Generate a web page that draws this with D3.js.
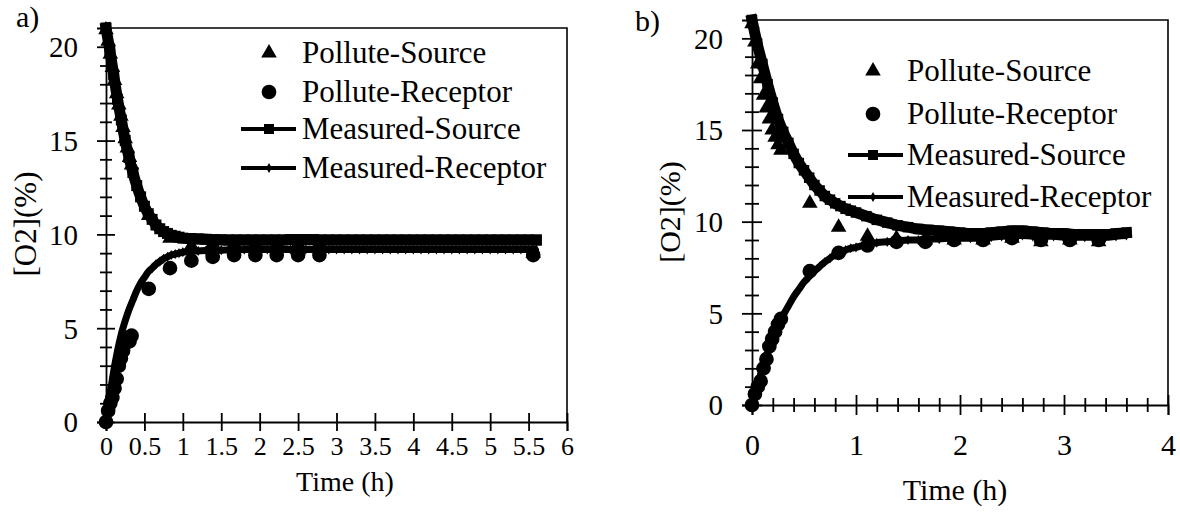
<!DOCTYPE html>
<html><head><meta charset="utf-8">
<script src="https://cdn.jsdelivr.net/npm/d3@7"></script>
<style>
html,body{margin:0;padding:0;background:#fff}
svg, svg text, svg g text { font-family: "Liberation Serif", Tinos, Times, serif !important; }
</style>
</head><body>
<svg id="c" width="1180" height="515" font-family="Liberation Serif"></svg>
<script>
const seriesNames = ["Pollute-Source", "Pollute-Receptor", "Measured-Source", "Measured-Receptor"];
const yTicks = [0, 5, 10, 15, 20];

// ---- panel a ----
const aPolluteTime = [0, 0.028, 0.056, 0.083, 0.111, 0.139, 0.167, 0.194, 0.222, 0.25, 0.278, 0.306, 0.333, 0.556, 0.833, 1.111, 1.389, 1.667, 1.944, 2.222, 2.5, 2.778, 5.56];
const aPolluteSource = [20.9, 20.3, 19.6, 18.9, 18.2, 17.5, 16.9, 16.3, 15.7, 15.1, 14.6, 14.1, 13.7, 11.0, 9.8, 9.4, 9.5, 9.5, 9.5, 9.5, 9.5, 9.5, 9.0];
const aPolluteReceptor = [0, 0.6, 1.0, 1.3, 1.8, 2.3, 3.0, 3.4, 3.8, 4.2, 4.5, 4.3, 4.6, 7.1, 8.2, 8.6, 8.8, 8.9, 8.9, 8.9, 8.9, 8.9, 8.9];
const aMeasuredTime = [0, 0.05, 0.1, 0.15, 0.2, 0.25, 0.3, 0.35, 0.4, 0.45, 0.5, 0.55, 0.6, 0.65, 0.7, 0.75, 0.8, 0.85, 0.9, 0.95,
  1.0, 1.1, 1.2, 1.3, 1.4, 1.5, 1.6, 1.7, 1.8, 1.9, 2.0, 2.1, 2.2, 2.3, 2.4, 2.5, 2.6, 2.7, 2.8, 2.9, 3.0, 3.1, 3.2, 3.3, 3.4, 3.5,
  3.6, 3.7, 3.8, 3.9, 4.0, 4.1, 4.2, 4.3, 4.4, 4.5, 4.6, 4.7, 4.8, 4.9, 5.0, 5.1, 5.2, 5.3, 5.4, 5.5, 5.6];
const aMeasuredSource = [21.0, 19.8, 18.5, 17.2, 16.1, 15.0, 14.1, 13.3, 12.6, 12.0, 11.5, 11.1, 10.8, 10.5, 10.3, 10.15, 10.05, 9.95, 9.9, 9.85,
  9.8, 9.78, 9.76, 9.74, 9.72, 9.71, 9.7, 9.7, 9.7, 9.7, 9.7, 9.7, 9.7, 9.7, 9.72, 9.72, 9.72, 9.72, 9.7, 9.7, 9.7, 9.7, 9.7, 9.7, 9.7, 9.7,
  9.7, 9.7, 9.7, 9.7, 9.7, 9.7, 9.7, 9.7, 9.7, 9.7, 9.7, 9.7, 9.7, 9.7, 9.7, 9.7, 9.7, 9.7, 9.7, 9.7, 9.7];
const aMeasuredReceptor = [0, 1.4, 2.7, 3.8, 4.7, 5.4, 6.0, 6.5, 7.0, 7.4, 7.7, 8.0, 8.2, 8.4, 8.55, 8.7, 8.8, 8.9, 8.95, 9.0,
  9.05, 9.1, 9.12, 9.14, 9.15, 9.16, 9.17, 9.18, 9.19, 9.2, 9.2, 9.2, 9.2, 9.2, 9.2, 9.2, 9.2, 9.2, 9.2, 9.2, 9.2, 9.2, 9.2, 9.2, 9.2, 9.2,
  9.2, 9.2, 9.2, 9.2, 9.2, 9.2, 9.2, 9.2, 9.2, 9.2, 9.2, 9.2, 9.2, 9.2, 9.2, 9.2, 9.2, 9.2, 9.2, 9.2, 9.2];
const aXTicks = [0, 0.5, 1, 1.5, 2, 2.5, 3, 3.5, 4, 4.5, 5, 5.5, 6];

// ---- panel b ----
const bPolluteTime = [0, 0.028, 0.056, 0.083, 0.111, 0.139, 0.167, 0.194, 0.222, 0.25, 0.278, 0.556, 0.833, 1.111, 1.389, 1.667, 1.944, 2.222, 2.5, 2.778, 3.056, 3.333];
const bPolluteSource = [20.8, 19.8, 18.6, 17.8, 16.9, 16.2, 15.6, 15.0, 14.6, 14.2, 13.9, 11.0, 9.7, 9.2, 9.1, 9.0, 9.0, 9.0, 9.1, 8.9, 9.0, 8.9];
const bPolluteReceptor = [0, 0.6, 1.0, 1.3, 2.0, 2.5, 3.2, 3.6, 4.0, 4.4, 4.7, 7.3, 8.3, 8.7, 8.9, 8.9, 9.0, 9.0, 9.1, 9.0, 9.0, 9.0];
const bMeasuredTime = [0, 0.05, 0.1, 0.15, 0.2, 0.25, 0.3, 0.35, 0.4, 0.45, 0.5, 0.55, 0.6, 0.65, 0.7, 0.75, 0.8, 0.85, 0.9, 0.95, 1.0,
  1.1, 1.2, 1.3, 1.4, 1.5, 1.6, 1.7, 1.8, 1.9, 2.0, 2.1, 2.2, 2.3, 2.4, 2.5, 2.6, 2.7, 2.8, 2.9, 3.0, 3.1, 3.2, 3.3, 3.4, 3.5, 3.6];
const bMeasuredSource = [21.0, 19.7, 18.6, 17.5, 16.5, 15.6, 14.9, 14.3, 13.7, 13.2, 12.8, 12.4, 12.0, 11.7, 11.4, 11.2, 11.0, 10.85, 10.7, 10.6, 10.5,
  10.3, 10.1, 9.95, 9.8, 9.7, 9.6, 9.55, 9.5, 9.45, 9.4, 9.35, 9.35, 9.4, 9.45, 9.5, 9.5, 9.45, 9.4, 9.35, 9.35, 9.3, 9.3, 9.3, 9.3, 9.35, 9.4];
const bMeasuredReceptor = [0, 1.0, 2.0, 2.8, 3.6, 4.3, 4.9, 5.4, 5.9, 6.3, 6.7, 7.0, 7.3, 7.55, 7.8, 8.0, 8.2, 8.33, 8.45, 8.55, 8.6,
  8.75, 8.85, 8.9, 8.95, 9.0, 9.0, 9.05, 9.05, 9.1, 9.1, 9.1, 9.1, 9.15, 9.2, 9.25, 9.25, 9.2, 9.2, 9.2, 9.15, 9.15, 9.15, 9.15, 9.15, 9.2, 9.25];
const bXTicks = [0, 1, 2, 3, 4];

const FONT = "Liberation Serif";
const svg = d3.select("#c");
svg.append("rect").attr("width", 1180).attr("height", 515).attr("fill", "#fff");

function zip(t, v) { return t.map((d, i) => ({ t: d, v: v[i] })); }

function drawPanel(p) {
  const g = svg.append("g");
  const x = d3.scaleLinear().domain(p.xDomain).range(p.xRange);
  const y = d3.scaleLinear().domain([0, 21]).range(p.yRange);
  const x0 = p.xRange[0], x1 = p.xRange[1], yb = p.yRange[0], yt = p.yRange[1];

  g.append("path").attr("d", `M${x0},${yt}H${x1}V${yb}`).attr("fill", "none").attr("stroke", "#000").attr("stroke-width", 1.6);

  const yMinorVals = d3.range(1, 21).filter(d => d % 5 !== 0);
  const ym = g.append("g").attr("transform", `translate(${x0},0)`)
    .call(d3.axisLeft(y).tickValues(yMinorVals).tickSize(p.minor).tickFormat(""));
  ym.select(".domain").remove();
  ym.selectAll(".tick line").attr("x1", p.minor).attr("stroke-width", 1.8);

  const yA = g.append("g").attr("transform", `translate(${x0},0)`)
    .call(d3.axisLeft(y).tickValues(yTicks).tickSize(p.major).tickPadding(p.yPad).tickFormat(d3.format("~g")))
    .attr("font-family", FONT).attr("font-size", p.yFont);
  yA.select(".domain").attr("stroke-width", 1.8);
  yA.selectAll(".tick line").attr("x1", p.major).attr("stroke-width", 1.8);
  yA.selectAll("text").attr("font-family", FONT).attr("font-size", p.yFont).attr("fill", "#000").attr("dy", "0.34em");

  if (p.xMinor) {
    const xm = g.append("g").attr("transform", `translate(0,${yb})`)
      .call(d3.axisBottom(x).tickValues(p.xMinor).tickSize(p.minor).tickFormat(""));
    xm.select(".domain").remove();
    xm.selectAll(".tick line").attr("y1", -p.minor).attr("stroke-width", 1.8);
  }
  const xA = g.append("g").attr("transform", `translate(0,${yb})`)
    .call(d3.axisBottom(x).tickValues(p.xTicks).tickSize(p.major).tickFormat(d3.format("~g")))
    .attr("font-family", FONT).attr("font-size", p.xFont);
  xA.select(".domain").attr("stroke-width", 1.8);
  xA.selectAll(".tick line").attr("y1", -p.major).attr("stroke-width", 1.8);
  xA.selectAll("text").attr("font-family", FONT).attr("font-size", p.xFont).attr("fill", "#000")
    .attr("y", p.xLabelBase).attr("dy", null);

  g.append("text").attr("x", p.xTitle[0]).attr("y", p.xTitle[1]).attr("text-anchor", "middle")
    .attr("font-family", FONT).attr("font-size", p.titleFont).text("Time (h)");
  g.append("text").attr("transform", `translate(${p.yTitle[0]},${p.yTitle[1]}) rotate(-90)`).attr("text-anchor", "middle")
    .attr("font-family", FONT).attr("font-size", p.yTitleFont).text("[O2](%)");
  g.append("text").attr("x", p.tag[0]).attr("y", p.tag[1]).attr("font-family", FONT).attr("font-size", 30).text(p.tagText);

  const tri = d3.symbol().type(d3.symbolTriangle).size(105);
  const circ = d3.symbol().type(d3.symbolCircle).size(170);
  const sq = d3.symbol().type(d3.symbolSquare).size(p.sqSize);
  const dia = d3.symbol().type(d3.symbolDiamond).size(30);

  g.append("g").selectAll("path").data(zip(p.pt, p.ps)).join("path")
    .attr("transform", d => `translate(${x(d.t)},${y(d.v)})`).attr("d", tri).attr("fill", "#000");
  g.append("g").selectAll("path").data(zip(p.pt, p.pr)).join("path")
    .attr("transform", d => `translate(${x(d.t)},${y(d.v)})`).attr("d", circ).attr("fill", "#000");

  const line = d3.line().x(d => x(d.t)).y(d => y(d.v)).curve(d3.curveMonotoneX);
  const ms = zip(p.mt, p.ms), mr = zip(p.mt, p.mr);
  g.append("path").datum(ms).attr("d", line).attr("fill", "none").attr("stroke", "#000").attr("stroke-width", p.lwS).attr("stroke-linejoin", "round").attr("stroke-linecap", "square");
  g.append("g").selectAll("path").data(ms).join("path")
    .attr("transform", d => `translate(${x(d.t)},${y(d.v)})`).attr("d", sq).attr("fill", "#000");
  g.append("path").datum(mr).attr("d", line).attr("fill", "none").attr("stroke", "#000").attr("stroke-width", p.lwR).attr("stroke-linejoin", "round");
  g.append("g").selectAll("path").data(mr).join("path")
    .attr("transform", d => `translate(${x(d.t)},${y(d.v)})`).attr("d", dia).attr("fill", "#000");

  const L = p.legend;
  seriesNames.forEach((name, i) => {
    const cy = L.rows[i];
    const lg = g.append("g");
    if (i >= 2) {
      lg.append("line").attr("x1", L.l0).attr("x2", L.l1).attr("y1", cy).attr("y2", cy).attr("stroke", "#000").attr("stroke-width", 4);
    }
    const sym = [tri, circ, d3.symbol().type(d3.symbolSquare).size(100), dia][i];
    lg.append("path").attr("transform", `translate(${L.sx},${cy})`).attr("d", sym).attr("fill", "#000");
    lg.append("text").attr("x", L.tx).attr("y", cy + 10).attr("font-family", FONT).attr("font-size", L.font).text(name);
  });
}

drawPanel({
  xDomain: [0, 6], xRange: [106, 567], yRange: [422, 28],
  xTicks: aXTicks, xMinor: null, major: 9, minor: 6, yPad: 19, yFont: 29, xFont: 26, xLabelBase: 33,
  xTitle: [345, 491], yTitle: [36, 224], titleFont: 28, yTitleFont: 31, tag: [16, 27], tagText: "a)",
  pt: aPolluteTime, ps: aPolluteSource, pr: aPolluteReceptor, mt: aMeasuredTime, ms: aMeasuredSource, mr: aMeasuredReceptor,
  sqSize: 121, lwS: 11, lwR: 7,
  legend: { rows: [53, 92, 129, 168], sx: 269, l0: 241, l1: 296, tx: 302, font: 31 }
});

drawPanel({
  xDomain: [0, 4], xRange: [752, 1168], yRange: [405, 20],
  xTicks: bXTicks, xMinor: d3.range(0.2, 4, 0.2).filter(d => Math.abs(d - Math.round(d)) > 1e-6), major: 10, minor: 7, yPad: 19, yFont: 29, xFont: 30, xLabelBase: 50,
  xTitle: [955, 500], yTitle: [680, 212], titleFont: 30, yTitleFont: 30, tag: [635, 31], tagText: "b)",
  pt: bPolluteTime, ps: bPolluteSource, pr: bPolluteReceptor, mt: bMeasuredTime, ms: bMeasuredSource, mr: bMeasuredReceptor,
  sqSize: 110, lwS: 11, lwR: 7,
  legend: { rows: [71, 114, 155, 197], sx: 873, l0: 848, l1: 903, tx: 907, font: 31 }
});
</script>
</body></html>
